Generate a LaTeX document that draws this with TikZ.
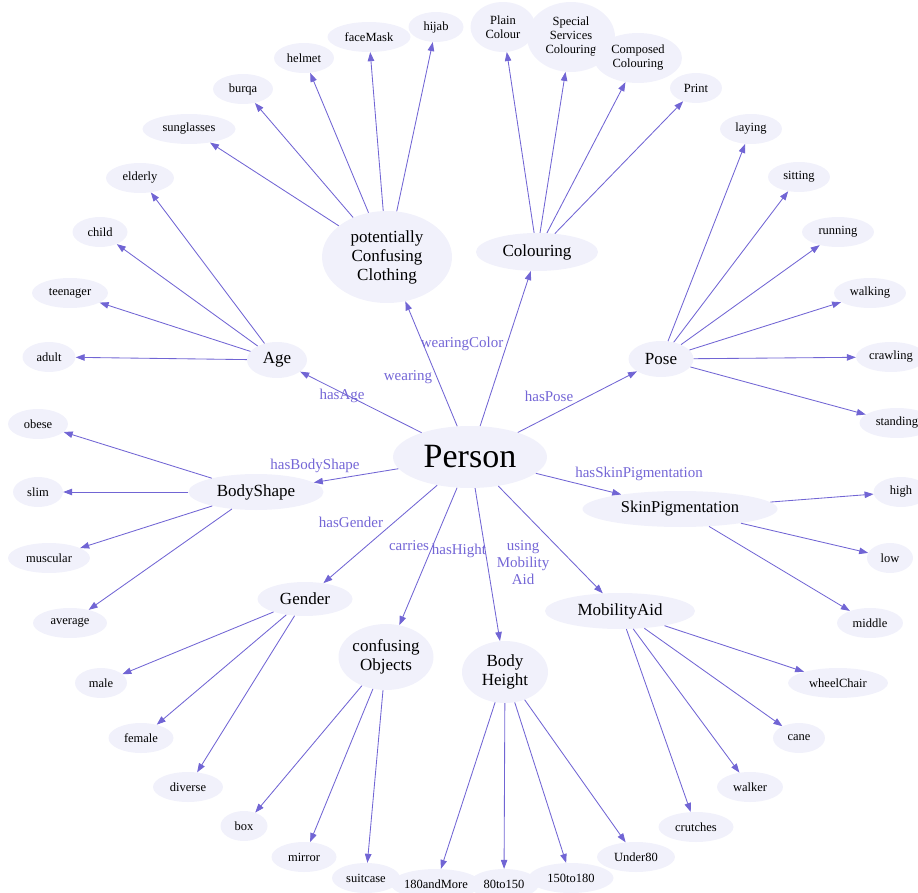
\documentclass[tikz,border=0pt]{standalone}
\usepackage{fontspec}
\setmainfont{Liberation Serif}
\usetikzlibrary{shapes.geometric,arrows.meta}
\definecolor{nfill}{HTML}{F1F1FB}
\definecolor{edgec}{HTML}{7165D4}
\definecolor{lblc}{HTML}{7466D6}
\begin{document}
\begin{tikzpicture}[x=1pt,y=-1pt,
 base/.style={ellipse, fill=nfill, inner sep=0pt, align=center, text=black},
 leaf/.style={base, minimum height=30pt, font=\fontsize{12.5}{14}\selectfont},
 mid/.style={base, minimum height=36pt, font=\fontsize{17}{19}\selectfont},
 elbl/.style={text=lblc, font=\fontsize{15}{17}\selectfont, inner sep=0pt, align=center},
 conn/.style={draw=edgec, line width=0.85pt, -{Triangle[length=9pt,width=6.5pt]}}]
\useasboundingbox (0,0) rectangle (918,893);
% centre and main classes
\node[base, minimum width=154pt, minimum height=62pt, font=\fontsize{34}{36}\selectfont] (P) at (470,457) {Person};
\node[mid, minimum width=130pt, minimum height=92pt] (Cl) at (387,257) {potentially\\Confusing\\Clothing};
\node[mid, minimum width=122pt, minimum height=38pt] (Co) at (537,252) {Colouring};
\node[mid, minimum width=65pt] (Po) at (661,359) {Pose};
\node[mid, minimum width=195pt, font=\fontsize{16.5}{18}\selectfont] (Sk) at (680,509) {SkinPigmentation};
\node[mid, minimum width=150pt] (Mo) at (620,611) {MobilityAid};
\node[mid, minimum width=86pt, minimum height=62pt] (BH) at (505,672) {Body\\Height};
\node[mid, minimum width=95pt, minimum height=66pt] (CO) at (386,657) {confusing\\Objects};
\node[mid, minimum width=95pt, minimum height=34pt] (Ge) at (305,599) {Gender};
\node[mid, minimum width=135pt] (BS) at (256,492) {BodyShape};
\node[mid, minimum width=60pt] (Ag) at (277,360) {Age};
% leaves
\node[leaf, minimum width=55pt] (hijab) at (436,27) {hijab};
\node[leaf, minimum width=83pt] (faceMask) at (369,37) {faceMask};
\node[leaf, minimum width=60pt] (helmet) at (304,58) {helmet};
\node[leaf, minimum width=60pt] (burqa) at (243,89) {burqa};
\node[leaf, minimum width=93pt] (sunglasses) at (189,129) {sunglasses};
\node[leaf, minimum width=68pt] (elderly) at (140,178) {elderly};
\node[leaf, minimum width=55pt] (child) at (100,232) {child};
\node[leaf, minimum width=76pt] (teenager) at (70,293) {teenager};
\node[leaf, minimum width=53pt] (adult) at (49,357) {adult};
\node[leaf, minimum width=60pt] (obese) at (38,424) {obese};
\node[leaf, minimum width=50pt] (slim) at (38,492) {slim};
\node[leaf, minimum width=82pt] (muscular) at (49,558) {muscular};
\node[leaf, minimum width=74pt] (average) at (70,623) {average};
\node[leaf, minimum width=52pt] (male) at (101,683) {male};
\node[leaf, minimum width=65pt] (female) at (141,738) {female};
\node[leaf, minimum width=70pt] (diverse) at (188,787) {diverse};
\node[leaf, minimum width=47pt] (box) at (244,826) {box};
\node[leaf, minimum width=65pt] (mirror) at (304,857) {mirror};
\node[leaf, minimum width=68pt] (suitcase) at (366,878) {suitcase};
\node[leaf, minimum width=80pt] (h180) at (436,884) {180andMore};
\node[leaf, minimum width=70pt] (h80) at (504,884) {80to150};
\node[leaf, minimum width=85pt] (h150) at (571,878) {150to180};
\node[leaf, minimum width=78pt] (under) at (636,857) {Under80};
\node[leaf, minimum width=75pt] (crutches) at (696,827) {crutches};
\node[leaf, minimum width=66pt] (walker) at (750,787) {walker};
\node[leaf, minimum width=52pt] (cane) at (799,738) {cane};
\node[leaf, minimum width=100pt] (wheel) at (838,683) {wheelChair};
\node[leaf, minimum width=66pt] (middle) at (870,623) {middle};
\node[leaf, minimum width=46pt] (low) at (890,558) {low};
\node[leaf, minimum width=55pt] (high) at (901,492) {high};
\node[leaf, minimum width=75pt] (standing) at (897,423) {standing};
\node[leaf, minimum width=70pt] (crawling) at (891,357) {crawling};
\node[leaf, minimum width=72pt] (walking) at (870,293) {walking};
\node[leaf, minimum width=72pt] (running) at (838,232) {running};
\node[leaf, minimum width=62pt] (sitting) at (799,177) {sitting};
\node[leaf, minimum width=62pt] (laying) at (751,129) {laying};
\node[leaf, minimum width=52pt] (print) at (696,88) {Print};
\node[leaf, minimum width=65pt, minimum height=50pt] (plain) at (503,27) {Plain\\Colour};
\node[leaf, minimum width=88pt, minimum height=70pt] (special) at (571,37) {Special\\Services\\Colouring};
\node[leaf, minimum width=88pt, minimum height=50pt] (composed) at (638,58) {Composed\\Colouring};
% edges from Person
\foreach \t in {Cl,Co,Po,Sk,Mo,BH,CO,Ge,BS,Ag} \draw[conn] (P) -- (\t);
% edges to leaves
\foreach \t in {hijab,faceMask,helmet,burqa,sunglasses} \draw[conn] (Cl) -- (\t);
\foreach \t in {plain,special,composed,print} \draw[conn] (Co) -- (\t);
\foreach \t in {laying,sitting,running,walking,crawling,standing} \draw[conn] (Po) -- (\t);
\foreach \t in {high,low,middle} \draw[conn] (Sk) -- (\t);
\foreach \t in {wheel,cane,walker,crutches} \draw[conn] (Mo) -- (\t);
\foreach \t in {under,h150,h80,h180} \draw[conn] (BH) -- (\t);
\foreach \t in {box,mirror,suitcase} \draw[conn] (CO) -- (\t);
\foreach \t in {male,female,diverse} \draw[conn] (Ge) -- (\t);
\foreach \t in {obese,slim,muscular,average} \draw[conn] (BS) -- (\t);
\foreach \t in {elderly,child,teenager,adult} \draw[conn] (Ag) -- (\t);
% edge labels
\node[elbl] (lwc) at (462,344) {wearingColor};
\node[elbl] (lw) at (408,377) {wearing};
\node[elbl] (lage) at (342,396) {hasAge};
\node[elbl] (lpose) at (549,396) {hasPose};
\node[elbl] (lbs) at (315,466) {hasBodyShape};
\node[elbl] (lsk) at (639,474) {hasSkinPigmentation};
\node[elbl] (lge) at (351,522) {hasGender};
\node[elbl] (lca) at (409,546) {carries};
\node[elbl] (lhh) at (459,551) {hasHight};
\node[elbl] (lmo) at (523,563) {using\\Mobility\\Aid};
\end{tikzpicture}
\end{document}
